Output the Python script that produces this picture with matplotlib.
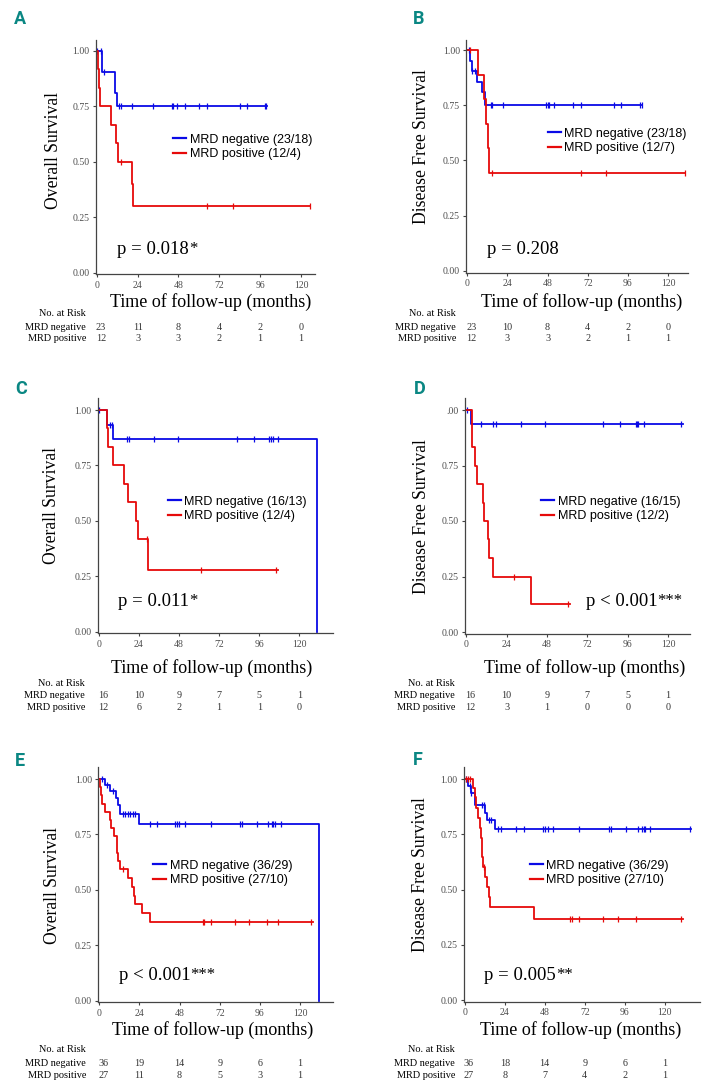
import numpy as np
import matplotlib
matplotlib.use('Agg')
import matplotlib.pyplot as plt
from matplotlib.lines import Line2D
from matplotlib.transforms import blended_transform_factory

W, H = 706, 1089
BLUE = '#0a0ae6'
RED = '#e60a0a'
TEAL = '#0a8783'
SERIF = 'Liberation Serif'

# --- data ---
# A: overall survival
a_neg_t = [0, 3.1, 10.6, 11.8]
a_neg_s = [1, 0.905, 0.81, 0.75]
a_neg_end = 100
a_neg_cens = [0.4, 2.5, 4.5, 12.9, 14.1, 20.6, 33, 44, 45, 47, 52, 60, 65, 84, 88, 98.6, 99.4]
a_pos_t = [0, 0.5, 1.3, 2.0, 8.2, 11.2, 12.3, 20.6, 21.2]
a_pos_s = [1, 0.917, 0.833, 0.75, 0.667, 0.583, 0.5, 0.4, 0.3]
a_pos_end = 125.5
a_pos_cens = [14.3, 65, 80, 125]

# B: disease free survival
b_neg_t = [0, 1.6, 2.6, 6.0, 9.0, 10.4]
b_neg_s = [1, 0.95, 0.905, 0.857, 0.81, 0.75]
b_neg_end = 104.7
b_neg_cens = [1.3, 3.0, 4.4, 14, 15, 21.3, 47, 48, 49, 52, 63, 68, 88, 92, 103, 104.7]
b_pos_t = [0, 6.4, 10.0, 11.2, 12.2, 13.2]
b_pos_s = [1, 0.889, 0.778, 0.667, 0.556, 0.444]
b_pos_end = 130
b_pos_cens = [1.4, 14.8, 67.8, 83, 130]

# C: overall survival
c_neg_t = [0, 5.2, 8.4, 130.7]
c_neg_s = [1, 0.933, 0.867, 0]
c_neg_end = 130.7
c_neg_cens = [0.4, 6.9, 8.2, 16.9, 17.9, 32.9, 47.2, 83, 93, 102, 103, 104, 107.4]
c_pos_t = [0, 5.2, 5.8, 8.8, 15.3, 17.7, 22.3, 23.7, 29.3]
c_pos_s = [1, 0.917, 0.833, 0.75, 0.667, 0.583, 0.5, 0.417, 0.278]
c_pos_end = 107.4
c_pos_cens = [28.7, 61.2, 106]

# D: disease free survival
d_neg_t = [0, 3.0]
d_neg_s = [1, 0.9375]
d_neg_end = 129
d_neg_cens = [0.6, 8.5, 16, 17.6, 32.5, 46.8, 81.6, 91.5, 100.7, 101.5, 102.4, 105.6, 128]
d_pos_t = [0, 3.6, 5.2, 6.5, 9.7, 10.3, 12.7, 13.5, 16.0, 38.6]
d_pos_s = [1, 0.833, 0.75, 0.667, 0.583, 0.5, 0.417, 0.333, 0.25, 0.125]
d_pos_end = 61.6
d_pos_cens = [28.5, 60.6]

# E: overall survival
e_neg_t = [0, 3.6, 6.6, 10.2, 11.2, 12.2, 23.9, 131.5]
e_neg_s = [1, 0.972, 0.944, 0.914, 0.884, 0.843, 0.797, 0]
e_neg_end = 131.5
e_neg_cens = [1.6, 4.6, 8.0, 14.2, 15.6, 17.2, 18.5, 20, 21.5, 30.5, 34.5, 45.5, 46.5, 47.8,
              51.4, 66.8, 84, 85.5, 94, 101, 103, 104, 105, 108.5]
e_pos_t = [0, 0.4, 1.0, 1.8, 3.4, 6.4, 7.0, 8.8, 10.4, 10.8, 11.4, 12.4, 17.3, 19.7, 20.9, 21.5, 25.3, 30.3]
e_pos_s = [1, 0.963, 0.926, 0.889, 0.852, 0.815, 0.778, 0.741, 0.704, 0.667, 0.630, 0.593,
           0.553, 0.514, 0.474, 0.435, 0.395, 0.355]
e_pos_end = 128
e_pos_cens = [14.4, 61.8, 62.6, 66.6, 81, 89.7, 100, 106.6, 126.4]

# F: disease free survival
f_neg_t = [0, 2.0, 3.6, 6.4, 12.4, 13.6, 18.4]
f_neg_s = [1, 0.968, 0.938, 0.882, 0.847, 0.814, 0.774]
f_neg_end = 136
f_neg_cens = [1, 3.0, 4.0, 10.4, 11.4, 14.4, 15.6, 20, 21.6, 31, 35.4, 47, 48, 50, 53, 68.4,
              86.6, 87.6, 96.6, 104, 106.2, 107.4, 108.2, 111, 135]
f_pos_t = [0, 5.0, 6.0, 7.0, 8.0, 9.0, 10.0, 10.6, 11.0, 12.4, 13.6, 14.6, 15.4, 41.4]
f_pos_s = [1, 0.958, 0.917, 0.870, 0.822, 0.777, 0.731, 0.648, 0.603, 0.558, 0.513, 0.467, 0.42, 0.365]
f_pos_end = 131
f_pos_cens = [1, 2, 3.4, 11.4, 63.4, 64.4, 68.6, 83, 92, 103, 130]

x_ticks = [0, 24, 48, 72, 96, 120]
y_ticks = [0, 0.25, 0.5, 0.75, 1.0]

risk_neg = {'A': [23, 11, 8, 4, 2, 0], 'B': [23, 10, 8, 4, 2, 0], 'C': [16, 10, 9, 7, 5, 1],
            'D': [16, 10, 9, 7, 5, 1], 'E': [36, 19, 14, 9, 6, 1], 'F': [36, 18, 14, 9, 6, 1]}
risk_pos = {'A': [12, 3, 3, 2, 1, 1], 'B': [12, 3, 3, 2, 1, 1], 'C': [12, 6, 2, 1, 1, 0],
            'D': [12, 3, 1, 0, 0, 0], 'E': [27, 11, 8, 5, 3, 1], 'F': [27, 8, 7, 4, 2, 1]}

legend_neg = {'A': '23/18', 'B': '23/18', 'C': '16/13', 'D': '16/15', 'E': '36/29', 'F': '36/29'}
legend_pos = {'A': '12/4', 'B': '12/7', 'C': '12/4', 'D': '12/2', 'E': '27/10', 'F': '27/10'}
p_text = {'A': ('p = 0.018', '*'), 'B': ('p = 0.208', ''), 'C': ('p = 0.011', '*'),
          'D': ('p < 0.001', '***'), 'E': ('p < 0.001', '***'), 'F': ('p = 0.005', '**')}
ylabels = {'A': 'Overall Survival', 'B': 'Disease Free Survival', 'C': 'Overall Survival',
           'D': 'Disease Free Survival', 'E': 'Overall Survival', 'F': 'Disease Free Survival'}

curves = {
    'A': [(a_neg_t, a_neg_s, a_neg_end, a_neg_cens), (a_pos_t, a_pos_s, a_pos_end, a_pos_cens)],
    'B': [(b_neg_t, b_neg_s, b_neg_end, b_neg_cens), (b_pos_t, b_pos_s, b_pos_end, b_pos_cens)],
    'C': [(c_neg_t, c_neg_s, c_neg_end, c_neg_cens), (c_pos_t, c_pos_s, c_pos_end, c_pos_cens)],
    'D': [(d_neg_t, d_neg_s, d_neg_end, d_neg_cens), (d_pos_t, d_pos_s, d_pos_end, d_pos_cens)],
    'E': [(e_neg_t, e_neg_s, e_neg_end, e_neg_cens), (e_pos_t, e_pos_s, e_pos_end, e_pos_cens)],
    'F': [(f_neg_t, f_neg_s, f_neg_end, f_neg_cens), (f_pos_t, f_pos_s, f_pos_end, f_pos_cens)],
}

# --- layout in pixels ---
# x at month 0, x at month 120, y at 1.0, y at 0.0, right end of axis, top of axis
geom = {
    'A': (96.7, 301, 50.7, 272.7, 315, 40),
    'B': (467.3, 668, 50, 271, 688, 40),
    'C': (98.7, 299.3, 410, 631.7, 333, 398),
    'D': (466.3, 668, 410, 632, 690, 398),
    'E': (99.3, 300, 779, 1000.7, 333, 767),
    'F': (464.7, 664.7, 779, 1000, 700, 767),
}
# title letter, y label centre, x label centre, legend anchor, p text, risk label x, risk rows y
texts = {
    'A': ((14, 19), (54, 150), (211, 302), (173, 138), (117, 250), 86, (314, 327, 339)),
    'B': ((413, 19), (422, 147), (582, 302), (548, 132), (487, 249), 456, (314, 327, 339)),
    'C': ((15, 389), (52, 506), (212, 668), (168, 500), (118, 602), 85, (683, 695.7, 707)),
    'D': ((414, 389), (422, 517), (585, 668), (541, 500), (586, 602), 455, (683, 695.7, 707)),
    'E': ((15, 761), (52.5, 885), (212.5, 1030), (153, 864), (119, 976), 86, (1050, 1063, 1075)),
    'F': ((413, 760), (420.5, 875), (581, 1030), (530, 864), (484, 976), 455, (1050, 1063, 1075)),
}


def fx(x):
    return x / W


def fy(y):
    return 1 - y / H


def km_line(ax, t, s, end, cens, color):
    ax.plot(list(t) + [end], list(s) + [s[-1]], drawstyle='steps-post', color=color, lw=1.3)
    idx = np.searchsorted(t, cens, side='right') - 1
    ax.plot(cens, np.asarray(s)[idx], ls='none', marker='|', ms=5, mew=0.9, color=color)


fig = plt.figure(figsize=(W / 100, H / 100), dpi=100)

for key in 'ABCDEF':
    x0, x120, y1, y0, right, top = geom[key]
    sc = (x120 - x0) / 120
    k = y0 - y1
    xmin, ymin = -0.6, -0.008
    xmax = (right - x0) / sc
    ymax = (y0 - top) / k
    left_px = x0 + xmin * sc
    bottom_px = y0 - ymin * k
    ax = fig.add_axes([fx(left_px), fy(bottom_px), (right - left_px) / W, (bottom_px - top) / H])
    ax.set_xlim(xmin, xmax)
    ax.set_ylim(ymin, ymax)

    (neg, pos) = curves[key]
    km_line(ax, *neg, BLUE)
    km_line(ax, *pos, RED)

    for side in ['top', 'right']:
        ax.spines[side].set_visible(False)
    for side in ['left', 'bottom']:
        ax.spines[side].set_color('#444444')
        ax.spines[side].set_linewidth(0.9)
    ax.set_xticks(x_ticks)
    ax.set_yticks(y_ticks)
    ylabs = ['0.00', '0.25', '0.50', '0.75', '1.00']
    if key == 'D':
        ylabs[-1] = '.00'
    ax.set_yticklabels(ylabs)
    ax.tick_params(length=2.5, width=0.8, color='#444444', labelsize=7, labelcolor='#4d4d4d', pad=2)
    for lab in ax.get_xticklabels() + ax.get_yticklabels():
        lab.set_fontfamily(SERIF)

    (tl, yl, xl, lg, pt, rx, rows) = texts[key]
    fig.text(fx(tl[0]), fy(tl[1]), key, fontsize=13, fontweight='bold', family='Roboto',
             color=TEAL, ha='left', va='center')
    fig.text(fx(yl[0]), fy(yl[1]), ylabels[key], rotation=90, fontsize=12.7, family=SERIF,
             ha='center', va='center')
    fig.text(fx(xl[0]), fy(xl[1]), 'Time of follow-up (months)', fontsize=13, family=SERIF,
             ha='center', va='center')

    handles = [Line2D([], [], color=BLUE, lw=1.6), Line2D([], [], color=RED, lw=1.6)]
    labels = ['MRD negative (%s)' % legend_neg[key], 'MRD positive (%s)' % legend_pos[key]]
    ax.legend(handles, labels, loc='upper left', bbox_to_anchor=(fx(lg[0]), fy(lg[1] - 4.2)),
              bbox_transform=fig.transFigure, frameon=False, borderaxespad=0, borderpad=0,
              handlelength=1.07, handletextpad=0.25, labelspacing=0.19,
              prop={'family': 'Liberation Sans', 'size': 9})

    main, stars = p_text[key]
    t = fig.text(fx(pt[0]), fy(pt[1]), main, fontsize=13.5, family=SERIF, ha='left', va='center')
    if stars:
        ax.annotate(stars, xy=(1, 1.05), xycoords=t, ha='left', va='top', fontsize=12, family=SERIF)

    fig.text(fx(rx), fy(rows[0]), 'No. at Risk', fontsize=7.4, family=SERIF, ha='right', va='center')
    fig.text(fx(rx), fy(rows[1]), 'MRD negative', fontsize=7.4, family=SERIF, ha='right', va='center')
    fig.text(fx(rx), fy(rows[2]), 'MRD positive', fontsize=7.4, family=SERIF, ha='right', va='center')
    trans = blended_transform_factory(ax.transData, fig.transFigure)
    for xt, nn, npos in zip(x_ticks, risk_neg[key], risk_pos[key]):
        ax.text(xt + 2.5 * (xt == 0), fy(rows[1]), str(nn), transform=trans, fontsize=7.3, family=SERIF,
                color='#333333', ha='center', va='center')
        ax.text(xt + 2.5 * (xt == 0), fy(rows[2]), str(npos), transform=trans, fontsize=7.3, family=SERIF,
                color='#333333', ha='center', va='center')

fig.savefig('out.png', dpi=100)
